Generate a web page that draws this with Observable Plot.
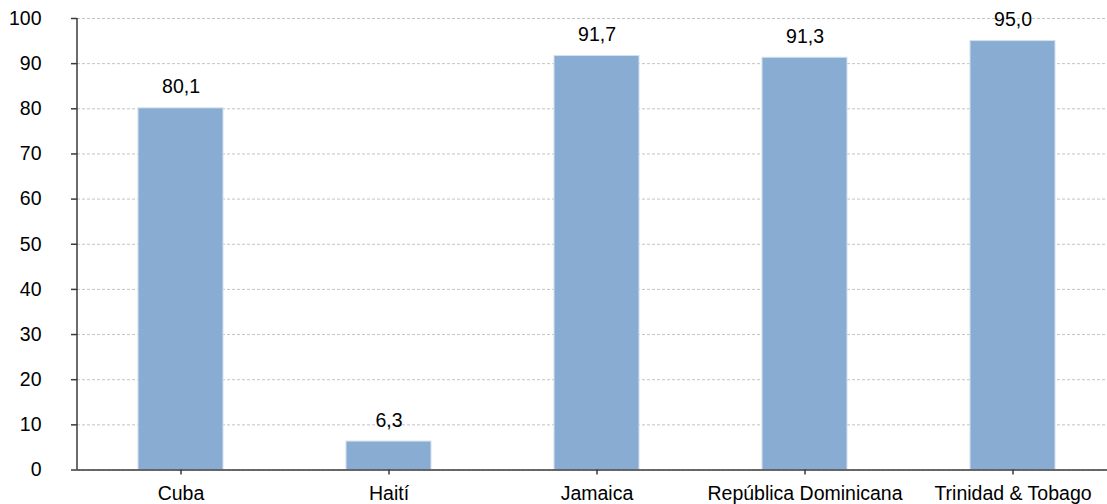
<!DOCTYPE html>
<html>
<head>
<meta charset="utf-8">
<script src="https://cdn.jsdelivr.net/npm/d3@7"></script>
<script src="https://cdn.jsdelivr.net/npm/@observablehq/plot@0.6"></script>
<style>
  html, body { margin: 0; padding: 0; background: #fff; }
  #chart svg { display: block; }
</style>
</head>
<body>
<div id="chart"></div>
<script>
// Countries and their values (percent)
const countries = ["Cuba", "Haití", "Jamaica", "República Dominicana", "Trinidad & Tobago"];
const values = [80.1, 6.3, 91.7, 91.3, 95.0];
const yTicks = [0, 10, 20, 30, 40, 50, 60, 70, 80, 90, 100];

const data = countries.map((c, i) => ({country: c, value: values[i]}));
const fmt = v => v.toFixed(1).replace(".", ",");

const axisColor = "#3a3a3a";

// Vertical domain line of the y axis, at the left edge of the frame
function yAxisLine(index, scales, values, dims) {
  const [y0, y1] = d3.extent(scales.y.domain());
  return d3.create("svg:line")
    .attr("x1", dims.marginLeft).attr("x2", dims.marginLeft)
    .attr("y1", scales.y(y0)).attr("y2", scales.y(y1))
    .attr("stroke", axisColor).attr("stroke-width", 1.5)
    .node();
}

const chart = Plot.plot({
  width: 1107,
  height: 504,
  marginLeft: 77,
  marginRight: 0,
  marginTop: 18,
  marginBottom: 34.5,
  style: {fontFamily: "'Liberation Sans', Arial, sans-serif", fontSize: "19.5px", color: "#000", background: "#fff"},
  x: {domain: countries, range: [77, 1117], paddingInner: 0.59, paddingOuter: 0.295, align: 0.5},
  y: {domain: [0, 100]},
  marks: [
    Plot.gridY(yTicks, {stroke: "#c4c4c4", strokeOpacity: 1, strokeDasharray: "3,2"}),
    Plot.barY(data, {x: "country", y: "value", fill: "#89acd2", stroke: "#d3e0ee", strokeWidth: 1}),
    Plot.text(data, {x: "country", y: "value", text: d => fmt(d.value), dy: -15, lineAnchor: "bottom", fill: "#000"}),
    Plot.ruleY([0], {stroke: axisColor, strokeWidth: 1.5}),
    yAxisLine,
    Plot.axisY(yTicks, {tickSize: 6, tickPadding: 30, stroke: axisColor, strokeWidth: 1.5, fill: "#000", tickFormat: d => String(d), label: null}),
    Plot.axisX({tickSize: 5, tickPadding: 11.5, stroke: axisColor, strokeWidth: 1.5, fill: "#000", label: null})
  ]
});

document.getElementById("chart").appendChild(chart);
</script>
</body>
</html>
